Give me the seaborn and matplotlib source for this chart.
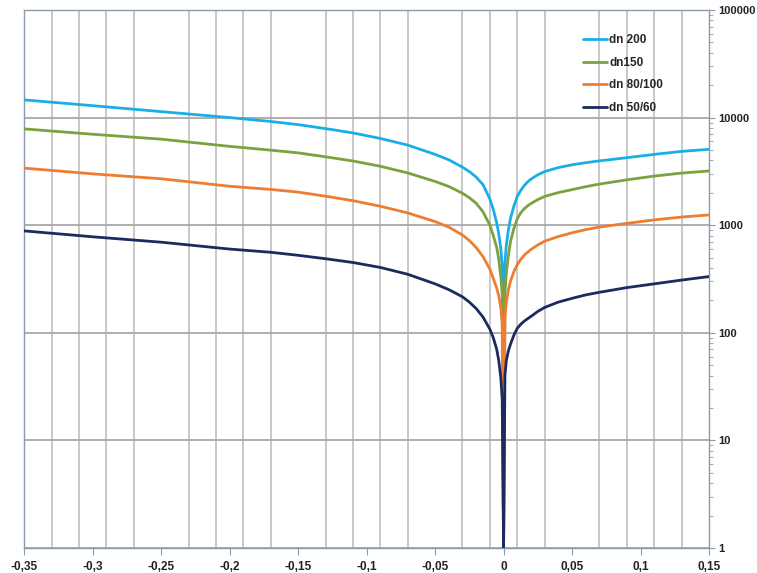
import numpy as np
import pandas as pd
import seaborn as sns
import matplotlib.pyplot as plt
from matplotlib.ticker import FixedLocator, FuncFormatter, LogLocator, NullFormatter

# x positions (left branch, zero, right branch)
x_vals = [-0.35, -0.3, -0.25, -0.2, -0.17, -0.15, -0.13, -0.11, -0.09, -0.07, -0.05, -0.04,
          -0.03, -0.025, -0.02, -0.015, -0.01, -0.0075, -0.005, -0.0035, -0.002, -0.001,
          0.0,
          0.001, 0.002, 0.0035, 0.005, 0.0075, 0.01, 0.0125, 0.015, 0.0175, 0.02, 0.025,
          0.03, 0.04, 0.05, 0.06, 0.07, 0.09, 0.11, 0.13, 0.15]

dn200 = [14600, 12900, 11360, 10000, 9200, 8600, 7900, 7200, 6400, 5550, 4550, 4050,
         3460, 3150, 2800, 2380, 1750, 1400, 1050, 830, 600, 420,
         1,
         450, 650, 900, 1150, 1500, 1850, 2100, 2330, 2520, 2680, 2940,
         3150, 3430, 3640, 3810, 3960, 4240, 4550, 4850, 5070]
dn150 = [7850, 7000, 6300, 5400, 4980, 4700, 4320, 3950, 3530, 3060, 2550, 2290,
         1980, 1800, 1600, 1330, 1000, 800, 620, 480, 330, 230,
         1,
         240, 360, 520, 700, 930, 1150, 1300, 1420, 1510, 1590, 1730,
         1850, 2010, 2140, 2280, 2410, 2640, 2860, 3050, 3190]
dn80_100 = [3390, 3000, 2700, 2300, 2150, 2030, 1860, 1690, 1500, 1300, 1080, 960,
            810, 720, 620, 510, 390, 320, 260, 220, 170, 120,
            1,
            140, 190, 250, 300, 370, 430, 480, 525, 560, 595, 655,
            710, 785, 850, 910, 960, 1040, 1120, 1190, 1245]
dn50_60 = [885, 780, 695, 600, 560, 525, 488, 450, 405, 350, 285, 252,
           216, 193, 168, 140, 108, 90, 70, 55, 38, 24,
           1,
           40, 55, 68, 78, 95, 110, 120, 128, 135, 142, 158,
           172, 193, 209, 225, 238, 263, 285, 309, 333]

series = {"dn 200": dn200, "dn150": dn150, "dn 80/100": dn80_100, "dn 50/60": dn50_60}
colors = ["#1aaee8", "#7ca23f", "#ee7d31", "#1c2b5e"]

rows = []
for name, vals in series.items():
    for x, y in zip(x_vals, vals):
        rows.append({"x": x, "y": y, "serie": name})
df = pd.DataFrame(rows)

sns.set_style("white")
plt.rcParams["font.family"] = ["Liberation Sans", "DejaVu Sans"]

fig = plt.figure(figsize=(7.57, 5.73), dpi=100)
ax = fig.add_axes([0.032, 0.0436, 0.9046, 0.939])

sns.lineplot(data=df, x="x", y="y", hue="serie", palette=colors, estimator=None,
             linewidth=2.0, ax=ax, zorder=3)

ax.set_yscale("log")
ax.set_xlim(-0.35, 0.15)
ax.set_ylim(1, 100000)

# x: labels every 0.05, gridlines every 0.02
ax.xaxis.set_major_locator(FixedLocator([-0.35, -0.3, -0.25, -0.2, -0.15, -0.1, -0.05, 0, 0.05, 0.1, 0.15]))
ax.xaxis.set_major_formatter(FuncFormatter(lambda v, p: f"{v:g}".replace(".", ",")))
ax.xaxis.set_minor_locator(FixedLocator(np.round(np.arange(-0.35, 0.151, 0.02), 2)))
ax.grid(True, which="minor", axis="x", color="#c8c8c8", linewidth=1.4, zorder=0)
ax.grid(True, which="major", axis="y", color="#a8a8a8", linewidth=1.3, zorder=0)
ax.grid(False, which="major", axis="x")
ax.set_axisbelow(True)

# y on the right
ax.yaxis.tick_right()
ax.yaxis.set_major_locator(FixedLocator([1, 10, 100, 1000, 10000, 100000]))
ax.yaxis.set_major_formatter(FuncFormatter(lambda v, p: f"{int(round(v))}"))
ax.yaxis.set_minor_locator(LogLocator(base=10, subs=np.arange(2, 10)))
ax.yaxis.set_minor_formatter(NullFormatter())

ax.tick_params(axis="x", which="major", direction="out", length=5, color="#8c9bab",
               labelsize=8.5, pad=4, bottom=True)
ax.tick_params(axis="x", which="minor", length=0)
ax.tick_params(axis="y", which="major", direction="out", length=4, color="#8c9bab",
               labelsize=8, pad=3, right=True, left=False)
ax.tick_params(axis="y", which="minor", direction="out", length=3, color="#8c9bab",
               right=True, left=False)
for lab in ax.get_xticklabels() + ax.get_yticklabels():
    lab.set_fontweight("bold")
    lab.set_color("#222222")

for s in ax.spines.values():
    s.set_color("#8c9bab")
    s.set_linewidth(1.0)

ax.set_xlabel("")
ax.set_ylabel("")

leg = ax.legend(loc="upper left", bbox_to_anchor=(0.80, 0.975), frameon=False,
                handlelength=2.1, handletextpad=0.15, labelspacing=0.9,
                prop={"size": 8.5, "weight": "bold"})
for h in leg.get_lines():
    h.set_linewidth(2.0)

fig.savefig("out.png", dpi=100)
